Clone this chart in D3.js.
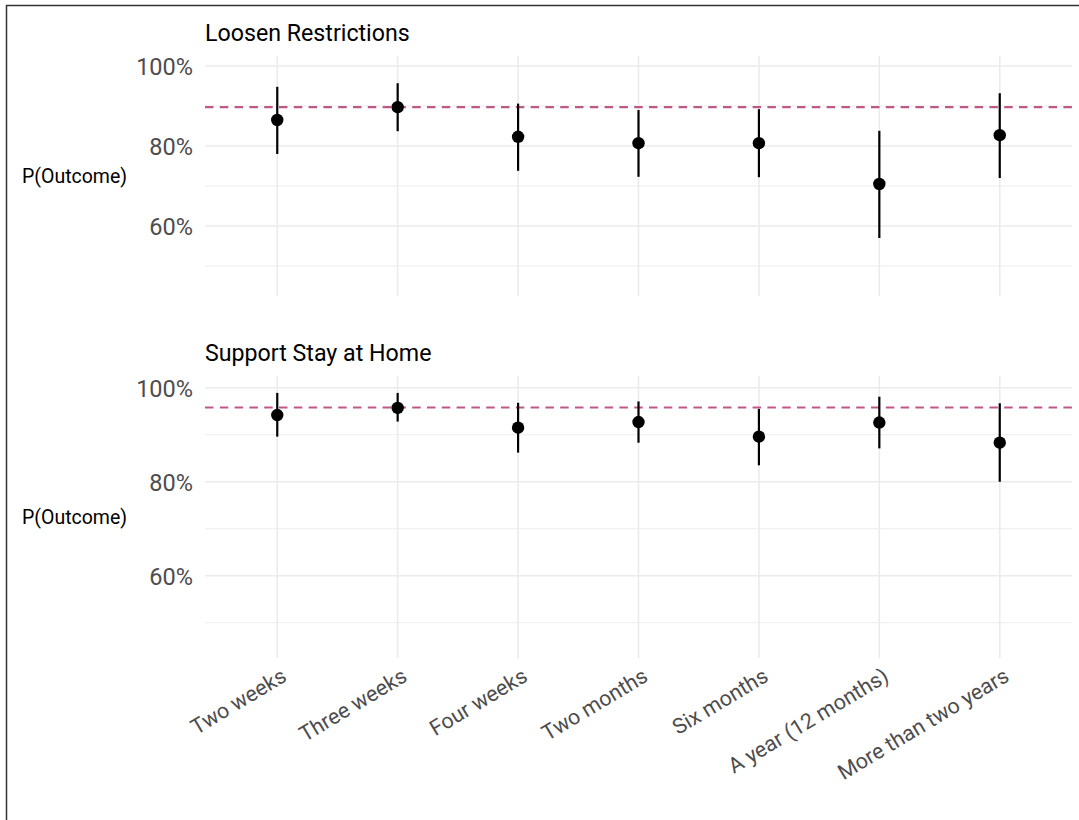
<!DOCTYPE html>
<html>
<head>
<meta charset="utf-8">
<script src="https://cdn.jsdelivr.net/npm/d3@7"></script>
<style>
  html, body { margin: 0; padding: 0; background: #fff; }
  svg { display: block; font-family: Roboto, "Noto Sans", sans-serif; }
</style>
</head>
<body>
<svg id="chart" width="1079" height="820"></svg>
<script>
// Time horizons shown on the x axis
const categories = ["Two weeks", "Three weeks", "Four weeks", "Two months",
                    "Six months", "A year (12 months)", "More than two years"];

// Panel titles
const panelTitles = ["Loosen Restrictions", "Support Stay at Home"];

// Estimated probability (%) and interval bounds, Loosen Restrictions
const loosenEst   = [86.5, 89.7, 82.3, 80.7, 80.7, 70.5, 82.7];
const loosenLower = [78.0, 83.7, 73.8, 72.3, 72.2, 57.0, 72.0];
const loosenUpper = [94.8, 95.7, 90.6, 89.0, 89.2, 83.8, 93.2];

// Estimated probability (%) and interval bounds, Support Stay at Home
const stayEst   = [94.2, 95.7, 91.5, 92.7, 89.6, 92.6, 88.3];
const stayLower = [89.6, 92.8, 86.2, 88.3, 83.5, 87.1, 80.0];
const stayUpper = [98.9, 98.9, 96.8, 97.1, 95.5, 98.1, 96.7];

// Reference level (dashed line) for each panel
const refLevels = [89.7, 95.8];

// Y axis ticks
const majorTicks = [60, 80, 100];
const minorTicks = [50, 70, 90];
const yDomain = [42.5, 102.5];

const panels = [
  { title: panelTitles[0], est: loosenEst, lo: loosenLower, hi: loosenUpper, ref: refLevels[0],
    top: 56, bottom: 296, titleY: 40.5 },
  { title: panelTitles[1], est: stayEst, lo: stayLower, hi: stayUpper, ref: refLevels[1],
    top: 376, bottom: 658, titleY: 360.5 }
];

const svg = d3.select("#chart");
const plotLeft = 205, plotRight = 1072;

// Outer frame (left and top edges)
svg.append("line").attr("x1", 6.5).attr("x2", 6.5).attr("y1", 5).attr("y2", 820)
  .attr("stroke", "#333").attr("stroke-width", 1.5);
svg.append("line").attr("x1", 6).attr("x2", 1079).attr("y1", 5.5).attr("y2", 5.5)
  .attr("stroke", "#333").attr("stroke-width", 1.5);

// Discrete x positions with ggplot-style 0.6-unit padding
const x = d3.scalePoint().domain(categories).range([plotLeft, plotRight]).padding(0.6);

panels.forEach((p, pi) => {
  const y = d3.scaleLinear().domain(yDomain).range([p.bottom, p.top]);
  const g = svg.append("g");

  // Minor horizontal grid
  g.selectAll("line.minor").data(minorTicks).enter().append("line")
    .attr("x1", plotLeft).attr("x2", plotRight)
    .attr("y1", d => y(d)).attr("y2", d => y(d))
    .attr("stroke", "#ededed").attr("stroke-width", 1.2);

  // Major horizontal grid
  g.selectAll("line.major").data(majorTicks).enter().append("line")
    .attr("x1", plotLeft).attr("x2", plotRight)
    .attr("y1", d => y(d)).attr("y2", d => y(d))
    .attr("stroke", "#ebebeb").attr("stroke-width", 1.6);

  // Vertical grid at each category
  g.selectAll("line.vgrid").data(categories).enter().append("line")
    .attr("x1", d => x(d)).attr("x2", d => x(d))
    .attr("y1", p.top).attr("y2", p.bottom)
    .attr("stroke", "#ebebeb").attr("stroke-width", 1.6);

  // Y axis labels
  const yAxis = d3.axisLeft(y).tickValues(majorTicks).tickSize(0).tickPadding(0)
    .tickFormat(d => d + "%");
  const ax = g.append("g").attr("transform", `translate(${plotLeft - 12},0)`).call(yAxis);
  ax.select(".domain").remove();
  ax.selectAll("text").attr("fill", "#4d4d4d").style("font-size", "23.5px")
    .style("font-family", "Roboto, sans-serif").attr("dy", "0.36em");

  // Y axis title
  g.append("text").attr("x", 22).attr("y", (p.top + p.bottom) / 2)
    .attr("dy", "0.35em").attr("fill", "#000").style("font-size", "19.5px")
    .text("P(Outcome)");

  // Panel title
  g.append("text").attr("x", plotLeft).attr("y", p.titleY)
    .attr("fill", "#000").style("font-size", "23.2px").text(p.title);

  // Reference dashed line
  g.append("line").attr("x1", plotLeft).attr("x2", plotRight)
    .attr("y1", y(p.ref)).attr("y2", y(p.ref))
    .attr("stroke", "#be5886").attr("stroke-width", 2.2)
    .attr("stroke-dasharray", "8.5,6.3");

  // Interval bars
  g.selectAll("line.err").data(categories).enter().append("line")
    .attr("x1", d => x(d)).attr("x2", d => x(d))
    .attr("y1", (d, i) => y(p.lo[i])).attr("y2", (d, i) => y(p.hi[i]))
    .attr("stroke", "#000").attr("stroke-width", 2.2);

  // Point estimates
  g.selectAll("circle").data(categories).enter().append("circle")
    .attr("cx", d => x(d)).attr("cy", (d, i) => y(p.est[i]))
    .attr("r", 6.2).attr("fill", "#000");

  // X axis labels on the lower panel only
  if (pi === panels.length - 1) {
    g.selectAll("text.xlab").data(categories).enter().append("text")
      .attr("transform", d => `translate(${x(d) + 3},${p.bottom + 9}) rotate(-31)`)
      .attr("text-anchor", "end").attr("dy", "0.71em")
      .attr("fill", "#4d4d4d").style("font-size", "21.5px")
      .text(d => d);
  }
});
</script>
</body>
</html>
